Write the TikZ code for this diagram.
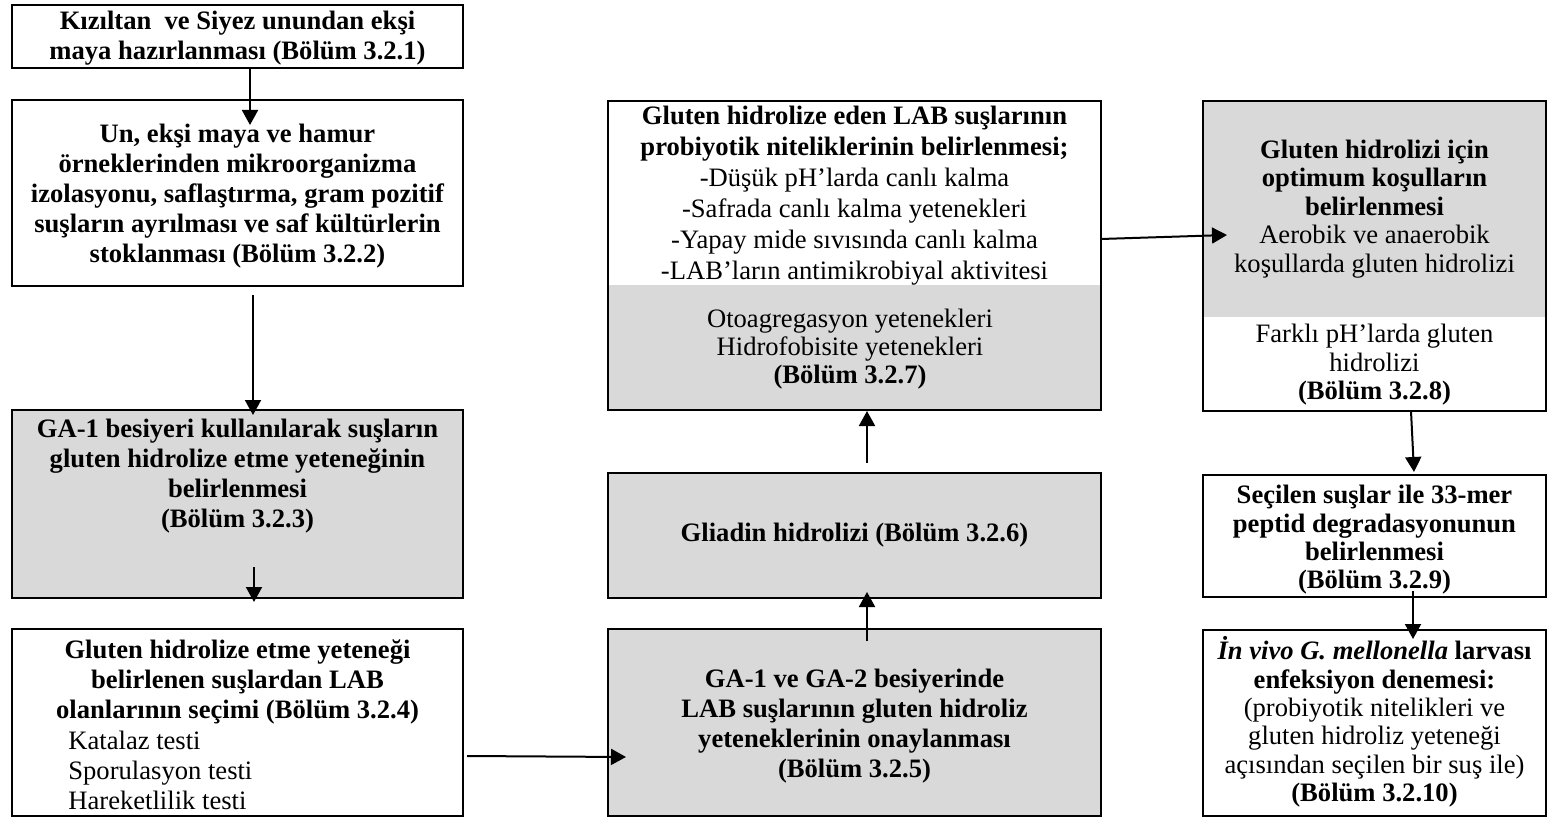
\documentclass[tikz,border=0pt]{standalone}
\usepackage{fontspec}
\setmainfont{Liberation Serif}
\usetikzlibrary{arrows.meta}
\definecolor{boxgray}{HTML}{D9D9D9}
\tikzset{
  box/.style={draw=black, line width=1.4pt, inner sep=0pt, outer sep=0pt, anchor=north west},
  graybox/.style={box, fill=boxgray},
  arr/.style={line width=1pt, -{Triangle[length=7.5pt,width=8pt]}},
  txtL/.style={align=center, inner sep=0pt, font=\fontsize{13.3}{15}\selectfont},
  txtM/.style={align=center, inner sep=0pt, font=\fontsize{13.3}{15.5}\selectfont},
  txtG/.style={align=center, inner sep=0pt, font=\fontsize{13.3}{13.9}\selectfont},
  txtR/.style={align=center, inner sep=0pt, font=\fontsize{13.3}{14.2}\selectfont},
  txtLeft/.style={align=left, inner sep=0pt, font=\fontsize{13.3}{15}\selectfont},
}
\begin{document}
\begin{tikzpicture}[x=0.5pt,y=-0.5pt]
\useasboundingbox (0,0) rectangle (1548,818);

% gray parts of split boxes
\fill[boxgray] (608,285) rectangle (1101,410);
\fill[boxgray] (1203,101) rectangle (1546,317);

% boxes
\node[box, minimum width=225.5pt, minimum height=31.5pt] (b1) at (12,5) {};
\node[box, minimum width=225.5pt, minimum height=93pt] (b2) at (12,100) {};
\node[graybox, minimum width=225.5pt, minimum height=94pt] (b3) at (12,410) {};
\node[box, minimum width=225.5pt, minimum height=93.5pt] (b4) at (12,629) {};
\node[graybox, minimum width=246.5pt, minimum height=93.5pt] (b5) at (608,629) {};
\node[graybox, minimum width=246.5pt, minimum height=62.5pt] (b6) at (608,473) {};
\node[box, minimum width=246.5pt, minimum height=154.5pt] (b7) at (608,101) {};
\node[box, minimum width=171.5pt, minimum height=155pt] (b8) at (1203,101) {};
\node[box, minimum width=171.5pt, minimum height=61pt] (b9) at (1203,475) {};
\node[box, minimum width=171.5pt, minimum height=93pt] (b10) at (1203,630) {};

% texts
\node[txtL] (t1) at (237.5,38) {\textbf{Kızıltan~ ve Siyez unundan ekşi}\\\textbf{maya hazırlanması (Bölüm 3.2.1)}};
\node[txtL] (t2) at (237.5,196) {\textbf{Un, ekşi maya ve hamur}\\\textbf{örneklerinden mikroorganizma}\\\textbf{izolasyonu, saflaştırma, gram pozitif}\\\textbf{suşların ayrılması ve saf kültürlerin}\\\textbf{stoklanması (Bölüm 3.2.2)}};
\node[txtL] (t3) at (237.5,476) {\textbf{GA-1 besiyeri kullanılarak suşların}\\\textbf{gluten hidrolize etme yeteneğinin}\\\textbf{belirlenmesi}\\\textbf{(Bölüm 3.2.3)}};
\node[txtL] (t4a) at (237.5,682) {\textbf{Gluten hidrolize etme yeteneği}\\\textbf{belirlenen suşlardan LAB}\\\textbf{olanlarının seçimi (Bölüm 3.2.4)}};
\node[txtLeft, anchor=west] (t4b) at (68,770) {Katalaz testi\\Sporulasyon testi\\Hareketlilik testi};
\node[txtL] (t5) at (854.5,726) {\textbf{GA-1 ve GA-2 besiyerinde}\\\textbf{LAB suşlarının gluten hidroliz}\\\textbf{yeteneklerinin onaylanması}\\\textbf{(Bölüm 3.2.5)}};
\node[txtL] (t6) at (854.5,535) {\textbf{Gliadin hidrolizi (Bölüm 3.2.6)}};
\node[txtM] (t7a) at (854.5,196) {\textbf{Gluten hidrolize eden LAB suşlarının}\\\textbf{probiyotik niteliklerinin belirlenmesi;}\\-Düşük pH’larda canlı kalma\\-Safrada canlı kalma yetenekleri\\-Yapay mide sıvısında canlı kalma\\-LAB’ların antimikrobiyal aktivitesi};
\node[txtG] (t7b) at (850,349) {Otoagregasyon yetenekleri\\Hidrofobisite yetenekleri\\\textbf{(Bölüm 3.2.7)}};
\node[txtR] (t8a) at (1374.5,209) {\textbf{Gluten hidrolizi için}\\\textbf{optimum koşulların}\\\textbf{belirlenmesi}\\Aerobik ve anaerobik\\koşullarda gluten hidrolizi};
\node[txtR] (t8b) at (1374.5,365) {Farklı pH’larda gluten\\hidrolizi\\\textbf{(Bölüm 3.2.8)}};
\node[txtR] (t9) at (1374.5,540) {\textbf{Seçilen suşlar ile 33-mer}\\\textbf{peptid degradasyonunun}\\\textbf{belirlenmesi}\\\textbf{(Bölüm 3.2.9)}};
\node[txtR] (t10) at (1374.5,722) {\textbf{\textit{İn vivo G. mellonella}} \textbf{larvası}\\\textbf{enfeksiyon denemesi:}\\(probiyotik nitelikleri ve\\gluten hidroliz yeteneği\\açısından seçilen bir suş ile)\\\textbf{(Bölüm 3.2.10)}};

% connector end points
\coordinate (a1e) at (250,125);
\coordinate (a2s) at (253,295);
\coordinate (a2e) at (253,415);
\coordinate (a3s) at (254,567);
\coordinate (a3e) at (254,602);
\coordinate (a4s) at (467,756);
\coordinate (a4e) at (626,757);
\coordinate (a5s) at (867,641);
\coordinate (a5e) at (867,592);
\coordinate (a6s) at (867,463);
\coordinate (a6e) at (867,411);
\coordinate (a7e) at (1227,235);
\coordinate (a8e) at (1414,472);
\coordinate (a9s) at (1413,591);
\coordinate (a9e) at (1413,639);

% connectors
\draw[arr] (b1.south -| a1e) -- (a1e);
\draw[arr] (a2s) -- (a2e);
\draw[arr] (a3s) -- (a3e);
\draw[arr] (a4s) -- (a4e);
\draw[arr] (a5s) -- (a5e);
\draw[arr] (a6s) -- (a6e);
\draw[arr] (b7.east |- 0,239) -- (a7e);
\draw[arr] (b8.south -| 1411,0) -- (a8e);
\draw[arr] (a9s) -- (a9e);
\end{tikzpicture}
\end{document}
